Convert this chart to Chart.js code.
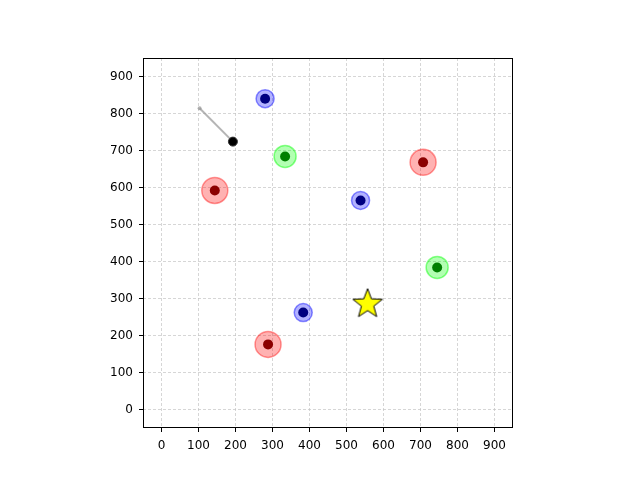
<!DOCTYPE html>
<html lang="en">
<head>
  <meta charset="UTF-8">
  <title>Scatter field</title>
  <script src="https://cdn.jsdelivr.net/npm/chart.js"></script>
  <style>
    body { margin: 0; background: #fff; }
  </style>
</head>
<body>
<canvas id="field" width="640" height="480"></canvas>
<script>
  // values
  const blueX = [280, 538, 383];
  const blueY = [840, 565, 262];
  const greenX = [334, 745];
  const greenY = [684, 384];
  const redX = [144, 707, 288];
  const redY = [592, 668, 176];
  const trailX = [103, 193];
  const trailY = [814, 724];
  const starX = [557];
  const starY = [289];
  const tickValues = [0, 100, 200, 300, 400, 500, 600, 700, 800, 900];

  const pts = (xs, ys) => xs.map((x, i) => ({ x: x, y: ys[i] }));

  // filled star image for the target marker
  function makeStar(size) {
    const c = document.createElement('canvas');
    c.width = size; c.height = size;
    const g = c.getContext('2d');
    const cx = size / 2, cy = size / 2 + 1.5, R = size / 2 - 1.5, r = R * 0.42;
    g.beginPath();
    for (let i = 0; i < 10; i++) {
      const a = -Math.PI / 2 + i * Math.PI / 5;
      const rad = i % 2 === 0 ? R : r;
      g.lineTo(cx + rad * Math.cos(a), cy + rad * Math.sin(a));
    }
    g.closePath();
    g.fillStyle = 'yellow';
    g.fill();
    g.lineWidth = 1;
    g.strokeStyle = 'black';
    g.lineJoin = 'miter';
    g.stroke();
    return c;
  }

  const frame = {
    id: 'frame',
    afterDraw(chart) {
      const a = chart.chartArea, ctx = chart.ctx;
      ctx.save();
      ctx.strokeStyle = 'black';
      ctx.lineWidth = 1;
      ctx.strokeRect(Math.round(a.left) + 0.5, Math.round(a.top) + 0.5,
        Math.round(a.right - a.left) - 1, Math.round(a.bottom - a.top) - 1);
      ctx.restore();
    }
  };

  const axisOpts = (extra) => Object.assign({
    type: 'linear',
    min: -50,
    max: 950,
    grid: {
      color: '#c4c4c4',
      lineWidth: 0.7,
      tickColor: 'black',
      tickBorderDash: [],
      tickLength: 4,
      tickWidth: 1
    },
    border: { display: false, dash: [3, 2] },
    afterBuildTicks: axis => { axis.ticks = tickValues.map(v => ({ value: v })); }
  }, extra);

  new Chart(document.getElementById('field'), {
    type: 'scatter',
    data: {
      datasets: [
        { data: pts(starX, starY), pointStyle: makeStar(34), pointRadius: 17, order: 0 },
        { data: pts(trailX, trailY), showLine: true, borderColor: 'rgba(150,150,150,0.7)', borderWidth: 2,
          pointRadius: [2, 0], pointBackgroundColor: 'rgba(150,150,150,0.7)', pointBorderWidth: 0, order: 2 },
        { data: [pts(trailX, trailY)[1]], pointRadius: 4.5, backgroundColor: 'black',
          borderColor: '#333', borderWidth: 1, order: 1 },
        { data: pts(blueX, blueY), pointRadius: 5, backgroundColor: '#000080', borderWidth: 0, order: 1 },
        { data: pts(greenX, greenY), pointRadius: 5, backgroundColor: '#008000', borderWidth: 0, order: 1 },
        { data: pts(redX, redY), pointRadius: 5, backgroundColor: '#8b0000', borderWidth: 0, order: 1 },
        { data: pts(blueX, blueY), pointRadius: 9, backgroundColor: 'rgba(0,0,255,0.3)',
          borderColor: 'rgba(0,0,255,0.45)', borderWidth: 1.5, order: 3 },
        { data: pts(greenX, greenY), pointRadius: 11, backgroundColor: 'rgba(0,255,0,0.3)',
          borderColor: 'rgba(0,255,0,0.45)', borderWidth: 1.5, order: 3 },
        { data: pts(redX, redY), pointRadius: 13, backgroundColor: 'rgba(255,0,0,0.3)',
          borderColor: 'rgba(255,0,0,0.4)', borderWidth: 1.5, order: 3 }
      ]
    },
    options: {
      responsive: false,
      animation: false,
      maintainAspectRatio: false,
      layout: { padding: { left: 0, right: 127, top: 58, bottom: 0 } },
      plugins: { legend: { display: false }, tooltip: { enabled: false } },
      scales: {
        x: axisOpts({
          position: 'bottom',
          ticks: { color: 'black', maxRotation: 0, padding: 7,
                   font: { family: 'DejaVu Sans', size: 12 } },
          afterFit: s => { s.height = 52; }
        }),
        y: axisOpts({
          position: 'left',
          ticks: { color: 'black', padding: 6,
                   font: { family: 'DejaVu Sans', size: 12 } },
          afterFit: s => { s.width = 143; }
        })
      }
    },
    plugins: [frame]
  });
</script>
</body>
</html>
